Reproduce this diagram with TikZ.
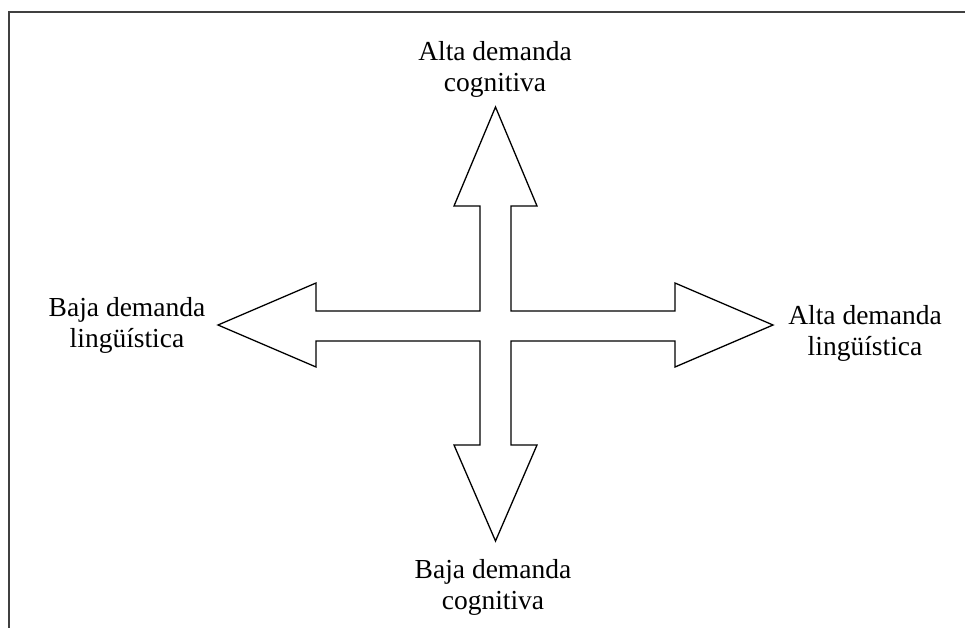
\documentclass[tikz,border=0pt]{standalone}
\usepackage{fontspec}
\setmainfont{Liberation Serif}
\begin{document}
\begin{tikzpicture}[x=1pt,y=-1pt,
  lbl/.style={align=center,inner sep=0pt,font=\fontsize{27.5}{31}\selectfont},
  frame/.style={line width=1.6pt,draw=black!75},
  cross/.style={line width=1.3pt,draw=black,line join=miter}]
\useasboundingbox (0,0) rectangle (965,628);
% frame (only top and left edges visible)
\draw[frame] (9,628) -- (9,12) -- (965,12);
% cross with four arrow heads
\coordinate (tipU) at (495.5,107);
\coordinate (tipD) at (495.5,541);
\coordinate (tipL) at (218,325);
\coordinate (tipR) at (773,325);
\draw[cross] (tipU) -- (537,206) -- (511,206) -- (511,311) -- (675,311) -- (675,283)
  -- (tipR) -- (675,367) -- (675,341) -- (511,341) -- (511,445) -- (537,445)
  -- (tipD) -- (454,445) -- (480,445) -- (480,341) -- (316,341) -- (316,367)
  -- (tipL) -- (316,283) -- (316,311) -- (480,311) -- (480,206) -- (454,206) -- cycle;
% labels
\node[lbl] (top) at (495,69) {Alta demanda\\cognitiva};
\node[lbl] (bottom) at (493,587) {Baja demanda\\cognitiva};
\node[lbl] (left) at (127,325) {Baja demanda\\lingüística};
\node[lbl] (right) at (865,333) {Alta demanda\\lingüística};
\end{tikzpicture}
\end{document}
